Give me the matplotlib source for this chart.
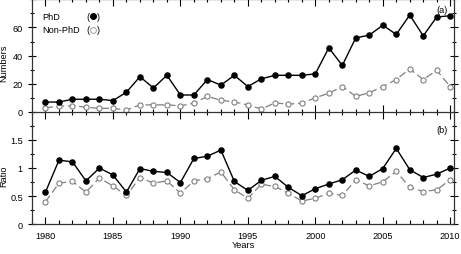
import matplotlib
matplotlib.use('Agg')
import matplotlib.pyplot as plt
from matplotlib.ticker import MultipleLocator, FixedLocator, FuncFormatter

plt.rcParams['font.family'] = ['Liberation Sans', 'DejaVu Sans']
plt.rcParams['font.size'] = 6.6

years = list(range(1980, 2011))

phd_num = [7, 7, 9, 9, 9, 8, 14, 25, 17, 26, 12, 12, 23, 19, 26, 18, 23.5, 26, 26, 26,
           27, 45.5, 33, 52.6, 54.5, 61.6, 55, 68.8, 54, 67.4, 68.3]
nonphd_num = [3, 4, 4.5, 3.3, 2.6, 2.5, 1.4, 5, 5, 5, 4.3, 6.2, 11, 8.3, 7, 5, 2, 6.4, 5.5, 6.2,
              10, 13.3, 18, 11, 13.6, 18, 23, 30.5, 23, 29.5, 18]

phd_ratio = [0.57, 1.14, 1.11, 0.77, 1.0, 0.875, 0.57, 0.99, 0.94, 0.92, 0.74, 1.17, 1.21, 1.32,
             0.76, 0.60, 0.78, 0.85, 0.655, 0.506, 0.63, 0.714, 0.79, 0.964, 0.85, 0.99, 1.35,
             0.97, 0.83, 0.89, 1.0]
nonphd_ratio = [0.40, 0.73, 0.76, 0.57, 0.82, 0.68, 0.51, 0.83, 0.73, 0.77, 0.55, 0.77, 0.81, 0.93,
                0.61, 0.46, 0.71, 0.67, 0.55, 0.41, 0.46, 0.55, 0.51, 0.79, 0.68, 0.755, 0.94,
                0.655, 0.58, 0.61, 0.79]

fig = plt.figure(figsize=(4.61, 2.55), dpi=100)
ax1 = fig.add_axes([0.0694, 0.502, 0.916, 0.497])
ax2 = fig.add_axes([0.0694, 0.1176, 0.916, 0.3844])

gray = '#808080'

def draw(ax, a, b):
    ax.plot(years, a, '-', color='black', lw=1.0, marker='o', ms=3.7,
            mfc='black', mec='black', zorder=3)
    ax.plot(years, b, '--', color=gray, lw=0.9, dashes=(6, 3), marker='o', ms=3.7,
            mfc='white', mec=gray, mew=0.8, zorder=2)
    ax.set_xlim(1979, 2010.3)
    ax.xaxis.set_major_locator(MultipleLocator(5))
    ax.xaxis.set_minor_locator(MultipleLocator(1))
    for s in ax.spines.values():
        s.set_linewidth(0.9)
        s.set_color('#333333')
    ax.yaxis.set_label_coords(-0.056, 0.5)

draw(ax1, phd_num, nonphd_num)
draw(ax2, phd_ratio, nonphd_ratio)

# top panel
ax1.set_ylim(-10, 80)
ax1.spines['bottom'].set_position(('data', 0))
ax1.yaxis.set_major_locator(FixedLocator([0, 20, 40, 60, 80]))
ax1.yaxis.set_minor_locator(FixedLocator([-10, 10, 30, 50, 70]))
ax1.yaxis.set_major_formatter(FuncFormatter(lambda v, p: '' if v == 80 else '%d' % v))
ax1.tick_params(axis='x', which='both', direction='inout', top=True, labelbottom=False)
ax1.tick_params(axis='x', which='major', length=10, width=0.8)
ax1.tick_params(axis='x', which='minor', length=5, width=0.8)
ax1.tick_params(axis='y', which='both', direction='inout', right=True, width=0.8)
ax1.tick_params(axis='y', which='major', length=6)
ax1.tick_params(axis='y', which='minor', length=3)
ax1.set_ylabel('Numbers')

# legend built from texts
for y, label, fc, ec in [(0.865, 'PhD', 'black', 'black'),
                         (0.76, 'Non-PhD', 'white', '#aaaaaa')]:
    ax1.text(0.025, y, label, transform=ax1.transAxes, ha='left', va='center')
    ax1.text(0.129, y, '(', transform=ax1.transAxes, ha='left', va='center')
    ax1.text(0.160, y, ')', transform=ax1.transAxes, ha='right', va='center')
    ax1.plot([0.1445], [y], 'o', ms=4.2, mfc=fc, mec=ec, mew=0.8, transform=ax1.transAxes)
ax1.text(0.985, 0.92, '(a)', transform=ax1.transAxes, ha='right', va='center')

# bottom panel
ax2.set_ylim(0, 1.75)
ax2.spines['top'].set_visible(False)
ax2.yaxis.set_major_locator(FixedLocator([0, 0.5, 1, 1.5]))
ax2.yaxis.set_minor_locator(FixedLocator([0.25, 0.75, 1.25, 1.75]))
ax2.yaxis.set_major_formatter(FuncFormatter(lambda v, p: '%g' % v))
ax2.tick_params(axis='x', which='both', direction='in', top=False, width=0.8, pad=5)
ax2.tick_params(axis='x', which='major', length=5)
ax2.tick_params(axis='x', which='minor', length=3)
ax2.tick_params(axis='y', which='both', direction='inout', right=True, width=0.8)
ax2.tick_params(axis='y', which='major', length=6)
ax2.tick_params(axis='y', which='minor', length=3)
ax2.set_ylabel('Ratio')
ax2.set_xlabel('Years', labelpad=0)
ax2.text(0.985, 0.96, '(b)', transform=ax2.transAxes, ha='right', va='center')

fig.savefig('out.png', dpi=100)
